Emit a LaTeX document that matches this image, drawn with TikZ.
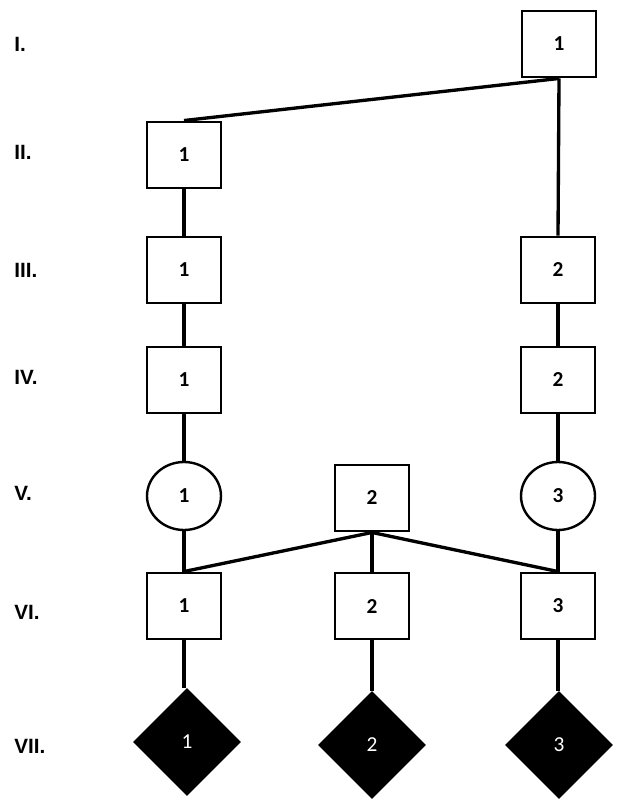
\documentclass[tikz,border=0pt]{standalone}
\usepackage{fontspec}
\setmainfont{Carlito}
\newfontfamily\labfont{Liberation Sans}
\usetikzlibrary{shapes.geometric}
\begin{document}
\begin{tikzpicture}[x=0.75pt,y=-0.75pt,
  male/.style={draw,line width=2.2pt,minimum width=55.5pt,minimum height=49.5pt,inner sep=0pt,font=\bfseries\fontsize{16}{18}\selectfont},
  female/.style={draw,ellipse,line width=1.8pt,minimum width=55.5pt,minimum height=51pt,inner sep=0pt,font=\bfseries\fontsize{16}{18}\selectfont},
  affected/.style={diamond,fill=black,text=white,aspect=1,minimum width=81pt,minimum height=81pt,inner sep=0pt,font=\fontsize{16}{18}\selectfont},
  gen/.style={anchor=west,inner sep=0pt,font=\labfont\bfseries\fontsize{15.5}{17}\selectfont},
  link/.style={line width=2.5pt}]
\useasboundingbox (0,0) rectangle (620,809);
% generation labels
\node[gen] (gI) at (14,44) {I.};
\node[gen] (gII) at (14,152) {II.};
\node[gen] (gIII) at (14,270) {III.};
\node[gen] (gIV) at (14,377) {IV.};
\node[gen] (gV) at (14,493) {V.};
\node[gen] (gVI) at (14,612) {VI.};
\node[gen] (gVII) at (14,746) {VII.};
% individuals
\node[male] (i1) at (559,44) {1};
\node[male] (ii1) at (184,155) {1};
\node[male] (iii1) at (184,270) {1};
\node[male] (iii2) at (558,270) {2};
\node[male] (iv1) at (184,380) {1};
\node[male] (iv2) at (558,380) {2};
\node[female] (v1) at (184,496) {1};
\node[male] (v2) at (372,498) {2};
\node[female] (v3) at (558,496) {3};
\node[male] (vi1) at (184,606) {1};
\node[male] (vi2) at (372,606) {2};
\node[male] (vi3) at (558,606) {3};
\node[affected] (vii1) at (187,742) {1};
\node[affected] (vii2) at (372,745) {2};
\node[affected] (vii3) at (559,745) {3};
% connectors
\draw[link] (i1.south) -- (ii1.north);
\draw[link] (i1.south) -- (iii2.north);
\draw[link] (ii1) -- (iii1);
\draw[link] (iii1) -- (iv1);
\draw[link] (iv1) -- (v1);
\draw[link] (v1) -- (vi1);
\draw[link] (iii2) -- (iv2);
\draw[link] (iv2) -- (v3);
\draw[link] (v3) -- (vi3);
\draw[link] (v2.south) -- (vi1.north);
\draw[link] (v2.south) -- (vi2.north);
\draw[link] (v2.south) -- (vi3.north);
\draw[link] (vi1.south) -- (vi1.south |- vii1.north);
\draw[link] (vi2.south) -- (vii2.north);
\draw[link] (vi3.south) -- (vi3.south |- vii3.north);
\end{tikzpicture}
\end{document}
